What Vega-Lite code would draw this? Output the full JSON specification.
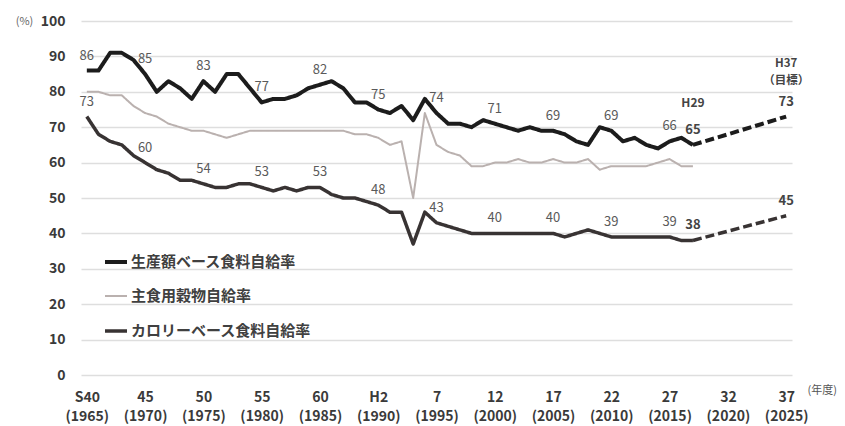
{
  "$schema": "https://vega.github.io/schema/vega-lite/v6.json",
  "width": 711,
  "height": 354,
  "autosize": {"type": "none"},
  "padding": {"left": 81, "top": 21, "right": 53, "bottom": 51},
  "background": "#ffffff",
  "config": {
    "view": {"stroke": null},
    "font": "Noto Sans CJK JP"
  },
  "datasets": {
    "series": [
      {"year": 1965, "value": 86, "series": "生産額ベース食料自給率", "kind": "実績"},
      {"year": 1966, "value": 86, "series": "生産額ベース食料自給率", "kind": "実績"},
      {"year": 1967, "value": 91, "series": "生産額ベース食料自給率", "kind": "実績"},
      {"year": 1968, "value": 91, "series": "生産額ベース食料自給率", "kind": "実績"},
      {"year": 1969, "value": 89, "series": "生産額ベース食料自給率", "kind": "実績"},
      {"year": 1970, "value": 85, "series": "生産額ベース食料自給率", "kind": "実績"},
      {"year": 1971, "value": 80, "series": "生産額ベース食料自給率", "kind": "実績"},
      {"year": 1972, "value": 83, "series": "生産額ベース食料自給率", "kind": "実績"},
      {"year": 1973, "value": 81, "series": "生産額ベース食料自給率", "kind": "実績"},
      {"year": 1974, "value": 78, "series": "生産額ベース食料自給率", "kind": "実績"},
      {"year": 1975, "value": 83, "series": "生産額ベース食料自給率", "kind": "実績"},
      {"year": 1976, "value": 80, "series": "生産額ベース食料自給率", "kind": "実績"},
      {"year": 1977, "value": 85, "series": "生産額ベース食料自給率", "kind": "実績"},
      {"year": 1978, "value": 85, "series": "生産額ベース食料自給率", "kind": "実績"},
      {"year": 1979, "value": 81, "series": "生産額ベース食料自給率", "kind": "実績"},
      {"year": 1980, "value": 77, "series": "生産額ベース食料自給率", "kind": "実績"},
      {"year": 1981, "value": 78, "series": "生産額ベース食料自給率", "kind": "実績"},
      {"year": 1982, "value": 78, "series": "生産額ベース食料自給率", "kind": "実績"},
      {"year": 1983, "value": 79, "series": "生産額ベース食料自給率", "kind": "実績"},
      {"year": 1984, "value": 81, "series": "生産額ベース食料自給率", "kind": "実績"},
      {"year": 1985, "value": 82, "series": "生産額ベース食料自給率", "kind": "実績"},
      {"year": 1986, "value": 83, "series": "生産額ベース食料自給率", "kind": "実績"},
      {"year": 1987, "value": 81, "series": "生産額ベース食料自給率", "kind": "実績"},
      {"year": 1988, "value": 77, "series": "生産額ベース食料自給率", "kind": "実績"},
      {"year": 1989, "value": 77, "series": "生産額ベース食料自給率", "kind": "実績"},
      {"year": 1990, "value": 75, "series": "生産額ベース食料自給率", "kind": "実績"},
      {"year": 1991, "value": 74, "series": "生産額ベース食料自給率", "kind": "実績"},
      {"year": 1992, "value": 76, "series": "生産額ベース食料自給率", "kind": "実績"},
      {"year": 1993, "value": 72, "series": "生産額ベース食料自給率", "kind": "実績"},
      {"year": 1994, "value": 78, "series": "生産額ベース食料自給率", "kind": "実績"},
      {"year": 1995, "value": 74, "series": "生産額ベース食料自給率", "kind": "実績"},
      {"year": 1996, "value": 71, "series": "生産額ベース食料自給率", "kind": "実績"},
      {"year": 1997, "value": 71, "series": "生産額ベース食料自給率", "kind": "実績"},
      {"year": 1998, "value": 70, "series": "生産額ベース食料自給率", "kind": "実績"},
      {"year": 1999, "value": 72, "series": "生産額ベース食料自給率", "kind": "実績"},
      {"year": 2000, "value": 71, "series": "生産額ベース食料自給率", "kind": "実績"},
      {"year": 2001, "value": 70, "series": "生産額ベース食料自給率", "kind": "実績"},
      {"year": 2002, "value": 69, "series": "生産額ベース食料自給率", "kind": "実績"},
      {"year": 2003, "value": 70, "series": "生産額ベース食料自給率", "kind": "実績"},
      {"year": 2004, "value": 69, "series": "生産額ベース食料自給率", "kind": "実績"},
      {"year": 2005, "value": 69, "series": "生産額ベース食料自給率", "kind": "実績"},
      {"year": 2006, "value": 68, "series": "生産額ベース食料自給率", "kind": "実績"},
      {"year": 2007, "value": 66, "series": "生産額ベース食料自給率", "kind": "実績"},
      {"year": 2008, "value": 65, "series": "生産額ベース食料自給率", "kind": "実績"},
      {"year": 2009, "value": 70, "series": "生産額ベース食料自給率", "kind": "実績"},
      {"year": 2010, "value": 69, "series": "生産額ベース食料自給率", "kind": "実績"},
      {"year": 2011, "value": 66, "series": "生産額ベース食料自給率", "kind": "実績"},
      {"year": 2012, "value": 67, "series": "生産額ベース食料自給率", "kind": "実績"},
      {"year": 2013, "value": 65, "series": "生産額ベース食料自給率", "kind": "実績"},
      {"year": 2014, "value": 64, "series": "生産額ベース食料自給率", "kind": "実績"},
      {"year": 2015, "value": 66, "series": "生産額ベース食料自給率", "kind": "実績"},
      {"year": 2016, "value": 67, "series": "生産額ベース食料自給率", "kind": "実績"},
      {"year": 2017, "value": 65, "series": "生産額ベース食料自給率", "kind": "実績"},
      {"year": 2017, "value": 65, "series": "生産額ベース食料自給率", "kind": "目標"},
      {"year": 2025, "value": 73, "series": "生産額ベース食料自給率", "kind": "目標"},
      {"year": 1965, "value": 80, "series": "主食用穀物自給率", "kind": "実績"},
      {"year": 1966, "value": 80, "series": "主食用穀物自給率", "kind": "実績"},
      {"year": 1967, "value": 79, "series": "主食用穀物自給率", "kind": "実績"},
      {"year": 1968, "value": 79, "series": "主食用穀物自給率", "kind": "実績"},
      {"year": 1969, "value": 76, "series": "主食用穀物自給率", "kind": "実績"},
      {"year": 1970, "value": 74, "series": "主食用穀物自給率", "kind": "実績"},
      {"year": 1971, "value": 73, "series": "主食用穀物自給率", "kind": "実績"},
      {"year": 1972, "value": 71, "series": "主食用穀物自給率", "kind": "実績"},
      {"year": 1973, "value": 70, "series": "主食用穀物自給率", "kind": "実績"},
      {"year": 1974, "value": 69, "series": "主食用穀物自給率", "kind": "実績"},
      {"year": 1975, "value": 69, "series": "主食用穀物自給率", "kind": "実績"},
      {"year": 1976, "value": 68, "series": "主食用穀物自給率", "kind": "実績"},
      {"year": 1977, "value": 67, "series": "主食用穀物自給率", "kind": "実績"},
      {"year": 1978, "value": 68, "series": "主食用穀物自給率", "kind": "実績"},
      {"year": 1979, "value": 69, "series": "主食用穀物自給率", "kind": "実績"},
      {"year": 1980, "value": 69, "series": "主食用穀物自給率", "kind": "実績"},
      {"year": 1981, "value": 69, "series": "主食用穀物自給率", "kind": "実績"},
      {"year": 1982, "value": 69, "series": "主食用穀物自給率", "kind": "実績"},
      {"year": 1983, "value": 69, "series": "主食用穀物自給率", "kind": "実績"},
      {"year": 1984, "value": 69, "series": "主食用穀物自給率", "kind": "実績"},
      {"year": 1985, "value": 69, "series": "主食用穀物自給率", "kind": "実績"},
      {"year": 1986, "value": 69, "series": "主食用穀物自給率", "kind": "実績"},
      {"year": 1987, "value": 69, "series": "主食用穀物自給率", "kind": "実績"},
      {"year": 1988, "value": 68, "series": "主食用穀物自給率", "kind": "実績"},
      {"year": 1989, "value": 68, "series": "主食用穀物自給率", "kind": "実績"},
      {"year": 1990, "value": 67, "series": "主食用穀物自給率", "kind": "実績"},
      {"year": 1991, "value": 65, "series": "主食用穀物自給率", "kind": "実績"},
      {"year": 1992, "value": 66, "series": "主食用穀物自給率", "kind": "実績"},
      {"year": 1993, "value": 50, "series": "主食用穀物自給率", "kind": "実績"},
      {"year": 1994, "value": 74, "series": "主食用穀物自給率", "kind": "実績"},
      {"year": 1995, "value": 65, "series": "主食用穀物自給率", "kind": "実績"},
      {"year": 1996, "value": 63, "series": "主食用穀物自給率", "kind": "実績"},
      {"year": 1997, "value": 62, "series": "主食用穀物自給率", "kind": "実績"},
      {"year": 1998, "value": 59, "series": "主食用穀物自給率", "kind": "実績"},
      {"year": 1999, "value": 59, "series": "主食用穀物自給率", "kind": "実績"},
      {"year": 2000, "value": 60, "series": "主食用穀物自給率", "kind": "実績"},
      {"year": 2001, "value": 60, "series": "主食用穀物自給率", "kind": "実績"},
      {"year": 2002, "value": 61, "series": "主食用穀物自給率", "kind": "実績"},
      {"year": 2003, "value": 60, "series": "主食用穀物自給率", "kind": "実績"},
      {"year": 2004, "value": 60, "series": "主食用穀物自給率", "kind": "実績"},
      {"year": 2005, "value": 61, "series": "主食用穀物自給率", "kind": "実績"},
      {"year": 2006, "value": 60, "series": "主食用穀物自給率", "kind": "実績"},
      {"year": 2007, "value": 60, "series": "主食用穀物自給率", "kind": "実績"},
      {"year": 2008, "value": 61, "series": "主食用穀物自給率", "kind": "実績"},
      {"year": 2009, "value": 58, "series": "主食用穀物自給率", "kind": "実績"},
      {"year": 2010, "value": 59, "series": "主食用穀物自給率", "kind": "実績"},
      {"year": 2011, "value": 59, "series": "主食用穀物自給率", "kind": "実績"},
      {"year": 2012, "value": 59, "series": "主食用穀物自給率", "kind": "実績"},
      {"year": 2013, "value": 59, "series": "主食用穀物自給率", "kind": "実績"},
      {"year": 2014, "value": 60, "series": "主食用穀物自給率", "kind": "実績"},
      {"year": 2015, "value": 61, "series": "主食用穀物自給率", "kind": "実績"},
      {"year": 2016, "value": 59, "series": "主食用穀物自給率", "kind": "実績"},
      {"year": 2017, "value": 59, "series": "主食用穀物自給率", "kind": "実績"},
      {"year": 1965, "value": 73, "series": "カロリーベース食料自給率", "kind": "実績"},
      {"year": 1966, "value": 68, "series": "カロリーベース食料自給率", "kind": "実績"},
      {"year": 1967, "value": 66, "series": "カロリーベース食料自給率", "kind": "実績"},
      {"year": 1968, "value": 65, "series": "カロリーベース食料自給率", "kind": "実績"},
      {"year": 1969, "value": 62, "series": "カロリーベース食料自給率", "kind": "実績"},
      {"year": 1970, "value": 60, "series": "カロリーベース食料自給率", "kind": "実績"},
      {"year": 1971, "value": 58, "series": "カロリーベース食料自給率", "kind": "実績"},
      {"year": 1972, "value": 57, "series": "カロリーベース食料自給率", "kind": "実績"},
      {"year": 1973, "value": 55, "series": "カロリーベース食料自給率", "kind": "実績"},
      {"year": 1974, "value": 55, "series": "カロリーベース食料自給率", "kind": "実績"},
      {"year": 1975, "value": 54, "series": "カロリーベース食料自給率", "kind": "実績"},
      {"year": 1976, "value": 53, "series": "カロリーベース食料自給率", "kind": "実績"},
      {"year": 1977, "value": 53, "series": "カロリーベース食料自給率", "kind": "実績"},
      {"year": 1978, "value": 54, "series": "カロリーベース食料自給率", "kind": "実績"},
      {"year": 1979, "value": 54, "series": "カロリーベース食料自給率", "kind": "実績"},
      {"year": 1980, "value": 53, "series": "カロリーベース食料自給率", "kind": "実績"},
      {"year": 1981, "value": 52, "series": "カロリーベース食料自給率", "kind": "実績"},
      {"year": 1982, "value": 53, "series": "カロリーベース食料自給率", "kind": "実績"},
      {"year": 1983, "value": 52, "series": "カロリーベース食料自給率", "kind": "実績"},
      {"year": 1984, "value": 53, "series": "カロリーベース食料自給率", "kind": "実績"},
      {"year": 1985, "value": 53, "series": "カロリーベース食料自給率", "kind": "実績"},
      {"year": 1986, "value": 51, "series": "カロリーベース食料自給率", "kind": "実績"},
      {"year": 1987, "value": 50, "series": "カロリーベース食料自給率", "kind": "実績"},
      {"year": 1988, "value": 50, "series": "カロリーベース食料自給率", "kind": "実績"},
      {"year": 1989, "value": 49, "series": "カロリーベース食料自給率", "kind": "実績"},
      {"year": 1990, "value": 48, "series": "カロリーベース食料自給率", "kind": "実績"},
      {"year": 1991, "value": 46, "series": "カロリーベース食料自給率", "kind": "実績"},
      {"year": 1992, "value": 46, "series": "カロリーベース食料自給率", "kind": "実績"},
      {"year": 1993, "value": 37, "series": "カロリーベース食料自給率", "kind": "実績"},
      {"year": 1994, "value": 46, "series": "カロリーベース食料自給率", "kind": "実績"},
      {"year": 1995, "value": 43, "series": "カロリーベース食料自給率", "kind": "実績"},
      {"year": 1996, "value": 42, "series": "カロリーベース食料自給率", "kind": "実績"},
      {"year": 1997, "value": 41, "series": "カロリーベース食料自給率", "kind": "実績"},
      {"year": 1998, "value": 40, "series": "カロリーベース食料自給率", "kind": "実績"},
      {"year": 1999, "value": 40, "series": "カロリーベース食料自給率", "kind": "実績"},
      {"year": 2000, "value": 40, "series": "カロリーベース食料自給率", "kind": "実績"},
      {"year": 2001, "value": 40, "series": "カロリーベース食料自給率", "kind": "実績"},
      {"year": 2002, "value": 40, "series": "カロリーベース食料自給率", "kind": "実績"},
      {"year": 2003, "value": 40, "series": "カロリーベース食料自給率", "kind": "実績"},
      {"year": 2004, "value": 40, "series": "カロリーベース食料自給率", "kind": "実績"},
      {"year": 2005, "value": 40, "series": "カロリーベース食料自給率", "kind": "実績"},
      {"year": 2006, "value": 39, "series": "カロリーベース食料自給率", "kind": "実績"},
      {"year": 2007, "value": 40, "series": "カロリーベース食料自給率", "kind": "実績"},
      {"year": 2008, "value": 41, "series": "カロリーベース食料自給率", "kind": "実績"},
      {"year": 2009, "value": 40, "series": "カロリーベース食料自給率", "kind": "実績"},
      {"year": 2010, "value": 39, "series": "カロリーベース食料自給率", "kind": "実績"},
      {"year": 2011, "value": 39, "series": "カロリーベース食料自給率", "kind": "実績"},
      {"year": 2012, "value": 39, "series": "カロリーベース食料自給率", "kind": "実績"},
      {"year": 2013, "value": 39, "series": "カロリーベース食料自給率", "kind": "実績"},
      {"year": 2014, "value": 39, "series": "カロリーベース食料自給率", "kind": "実績"},
      {"year": 2015, "value": 39, "series": "カロリーベース食料自給率", "kind": "実績"},
      {"year": 2016, "value": 38, "series": "カロリーベース食料自給率", "kind": "実績"},
      {"year": 2017, "value": 38, "series": "カロリーベース食料自給率", "kind": "実績"},
      {"year": 2017, "value": 38, "series": "カロリーベース食料自給率", "kind": "目標"},
      {"year": 2025, "value": 45, "series": "カロリーベース食料自給率", "kind": "目標"}
    ],
    "labels": [
      {"year": 1965, "value": 86, "text": "86", "bold": false},
      {"year": 1970, "value": 85, "text": "85", "bold": false},
      {"year": 1975, "value": 83, "text": "83", "bold": false},
      {"year": 1980, "value": 77, "text": "77", "bold": false},
      {"year": 1985, "value": 82, "text": "82", "bold": false},
      {"year": 1990, "value": 75, "text": "75", "bold": false},
      {"year": 1995, "value": 74, "text": "74", "bold": false},
      {"year": 2000, "value": 71, "text": "71", "bold": false},
      {"year": 2005, "value": 69, "text": "69", "bold": false},
      {"year": 2010, "value": 69, "text": "69", "bold": false},
      {"year": 2015, "value": 66, "text": "66", "bold": false},
      {"year": 2017, "value": 65, "text": "65", "bold": true},
      {"year": 2025, "value": 73, "text": "73", "bold": true},
      {"year": 1965, "value": 73, "text": "73", "bold": false},
      {"year": 1970, "value": 60, "text": "60", "bold": false},
      {"year": 1975, "value": 54, "text": "54", "bold": false},
      {"year": 1980, "value": 53, "text": "53", "bold": false},
      {"year": 1985, "value": 53, "text": "53", "bold": false},
      {"year": 1990, "value": 48, "text": "48", "bold": false},
      {"year": 1995, "value": 43, "text": "43", "bold": false},
      {"year": 2000, "value": 40, "text": "40", "bold": false},
      {"year": 2005, "value": 40, "text": "40", "bold": false},
      {"year": 2010, "value": 39, "text": "39", "bold": false},
      {"year": 2015, "value": 39, "text": "39", "bold": false},
      {"year": 2017, "value": 38, "text": "38", "bold": true},
      {"year": 2025, "value": 45, "text": "45", "bold": true}
    ],
    "notes": [
      {"year": 2017, "value": 65, "text": "H29", "multi": false},
      {"year": 2025, "value": 73, "text": "H37", "multi": true},
      {"year": 2025, "value": 73, "text": "（目標）", "multi": true}
    ]
  },
  "encoding": {
    "x": {
      "field": "year",
      "type": "quantitative",
      "scale": {"domain": [1964.5, 2025.5], "nice": false, "zero": false},
      "axis": {
        "values": [1965, 1970, 1975, 1980, 1985, 1990, 1995, 2000, 2005, 2010, 2015, 2020, 2025],
        "labelExpr": "datum.value == 1965 ? ['S40', '(1965)'] : datum.value == 1990 ? ['H2', '(1990)'] : ['' + (datum.value < 1989 ? datum.value - 1925 : datum.value - 1988), '(' + datum.value + ')']",
        "labelLineHeight": 19,
        "labelFontSize": 14,
        "labelFontWeight": "bold",
        "labelColor": "#3a3a3a",
        "labelPadding": 15,
        "labelFlush": false,
        "labelOverlap": false,
        "domain": false,
        "ticks": false,
        "grid": false,
        "title": "(年度)",
        "titleX": 726,
        "titleY": 15,
        "titleAlign": "left",
        "titleBaseline": "middle",
        "titleFontSize": 11,
        "titleFontWeight": "normal",
        "titleColor": "#555555"
      }
    },
    "y": {
      "field": "value",
      "type": "quantitative",
      "scale": {"domain": [0, 100], "nice": false},
      "axis": {
        "values": [0, 10, 20, 30, 40, 50, 60, 70, 80, 90, 100],
        "labelFontSize": 14,
        "labelFontWeight": "bold",
        "labelColor": "#3a3a3a",
        "labelPadding": 16,
        "domain": false,
        "ticks": false,
        "grid": true,
        "gridColor": "#dedede",
        "gridWidth": 1.5,
        "title": "(%)",
        "titleAngle": 0,
        "titleX": -57,
        "titleY": 0,
        "titleAlign": "center",
        "titleBaseline": "middle",
        "titleFontSize": 11,
        "titleFontWeight": "normal",
        "titleColor": "#666666"
      }
    }
  },
  "layer": [
    {
      "data": {"name": "series"},
      "mark": {"type": "line", "strokeJoin": "round"},
      "encoding": {
        "color": {
          "field": "series",
          "type": "nominal",
          "scale": {
            "domain": ["生産額ベース食料自給率", "主食用穀物自給率", "カロリーベース食料自給率"],
            "range": ["#1c1c1c", "#bab1af", "#383333"]
          },
          "legend": {
            "title": null,
            "orient": "none",
            "legendX": 22,
            "legendY": 228,
            "symbolType": "stroke",
            "symbolSize": 484,
            "labelFontSize": 15,
            "labelFontWeight": "bold",
            "labelColor": "#404040",
            "labelOffset": 2,
            "labelLimit": 400,
            "rowPadding": 14,
            "labelFont": "Noto Sans CJK JP"
          }
        },
        "strokeWidth": {
          "field": "series",
          "type": "nominal",
          "scale": {
            "type": "ordinal",
            "domain": ["生産額ベース食料自給率", "主食用穀物自給率", "カロリーベース食料自給率"],
            "range": [4, 2, 3.5]
          },
          "legend": {
            "title": null,
            "orient": "none",
            "legendX": 22,
            "legendY": 228,
            "symbolType": "stroke",
            "symbolSize": 484,
            "labelFontSize": 15,
            "labelFontWeight": "bold",
            "labelColor": "#404040",
            "labelOffset": 2,
            "labelLimit": 400,
            "rowPadding": 14,
            "labelFont": "Noto Sans CJK JP"
          }
        },
        "strokeDash": {
          "field": "kind",
          "type": "nominal",
          "scale": {"domain": ["実績", "目標"], "range": [[1, 0], [9, 4]]},
          "legend": null
        }
      }
    },
    {
      "data": {"name": "labels"},
      "transform": [{"filter": "!datum.bold"}],
      "mark": {"type": "text", "dy": -15, "fontSize": 13, "color": "#5a5a5a", "baseline": "middle"},
      "encoding": {"text": {"field": "text", "type": "nominal"}}
    },
    {
      "data": {"name": "labels"},
      "transform": [{"filter": "datum.bold"}],
      "mark": {"type": "text", "dy": -15, "fontSize": 13, "fontWeight": "bold", "color": "#444444", "baseline": "middle"},
      "encoding": {"text": {"field": "text", "type": "nominal"}}
    },
    {
      "data": {"name": "notes"},
      "transform": [{"filter": "!datum.multi"}],
      "mark": {"type": "text", "dy": -42, "fontSize": 12, "fontWeight": "bold", "color": "#444444", "baseline": "middle"},
      "encoding": {"text": {"field": "text", "type": "nominal"}}
    },
    {
      "data": {"name": "notes"},
      "transform": [{"filter": "datum.multi && datum.text == 'H37'"}],
      "mark": {"type": "text", "dy": -53, "fontSize": 11.5, "fontWeight": "bold", "color": "#444444", "baseline": "middle"},
      "encoding": {"text": {"field": "text", "type": "nominal"}}
    },
    {
      "data": {"name": "notes"},
      "transform": [{"filter": "datum.multi && datum.text != 'H37'"}],
      "mark": {"type": "text", "dy": -36, "fontSize": 11.5, "fontWeight": "bold", "color": "#444444", "baseline": "middle"},
      "encoding": {"text": {"field": "text", "type": "nominal"}}
    }
  ]
}
